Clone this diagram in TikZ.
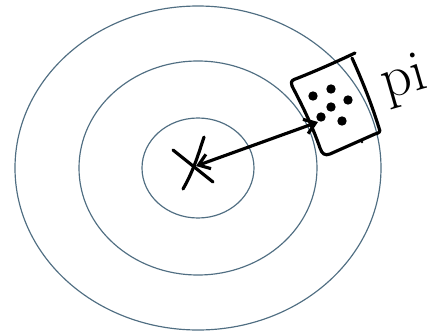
\documentclass[tikz,border=0pt]{standalone}
\usetikzlibrary{arrows.meta}

\definecolor{ringblue}{RGB}{80,110,130}

\begin{document}
\begin{tikzpicture}[x=0.03cm, y=-0.03cm,
    ring/.style={draw=ringblue, line width=1pt},
    pen/.style={line width=2.7pt, line cap=round, line join=round},
    grain/.style={circle, fill=black, inner sep=0pt, minimum size=8pt}]
  \useasboundingbox (0, 0) rectangle (446, 334);

  % Rings around the centre
  \coordinate (centre) at (198, 168);
  \foreach \rx/\ry in {56/50, 119/107, 183/162} {
    \draw [ring] (centre) ellipse [x radius=\rx, y radius=\ry];
  }

  % Cross at the centre
  \coordinate (cross) at (196, 166);
  \draw [pen] (173, 150) -- (213, 182);
  \draw [pen] (183, 189) .. controls (194, 170) and (199, 152) .. (204, 137);

  % Pixel box with its grains
  \draw [pen] (292, 86) .. controls (290, 80) and (293, 80) .. (298, 78)
    .. controls (318, 70) and (336, 62) .. (355, 53);
  \draw [pen] (352, 58) .. controls (362, 80) and (372, 105) .. (379, 128)
    .. controls (381, 132) and (379, 133) .. (375, 134)
    -- (330, 154) .. controls (325, 156) and (322, 154) .. (320, 148)
    .. controls (312, 125) and (302, 105) .. (292, 86);
  \foreach \gx/\gy [count=\k] in {313/96, 331/89, 348/100, 331/107, 321/117, 342/121} {
    \node [grain] (g\k) at (\gx, \gy) {};
  }
  \fill (362, 142) circle [radius=1.3];
  \coordinate (sample) at (318, 122);

  % Distance arrow
  \draw [pen, {Straight Barb[length=9pt, width=13pt]}-{Straight Barb[length=9pt, width=13pt]}]
    (cross) -- (sample);

  % Label
  \node [rotate=16, anchor=base west, inner sep=0pt, font=\fontsize{50}{50}\selectfont]
    (label) at (386, 100) {pi};
\end{tikzpicture}
\end{document}
